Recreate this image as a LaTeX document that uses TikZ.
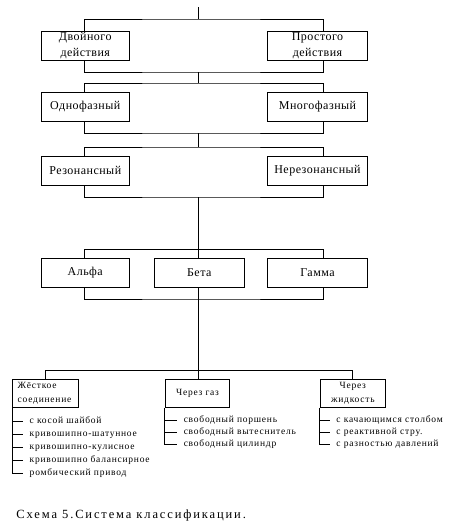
\documentclass[tikz,border=0pt]{standalone}
\usepackage{fontspec}
\newfontfamily\boxfont[LetterSpace=4]{Liberation Serif}
\newfontfamily\smallfont[LetterSpace=8]{Liberation Serif}
\newfontfamily\capfont[LetterSpace=15]{Liberation Serif}
\begin{document}
\begin{tikzpicture}[x=1pt,y=-1pt,
  line width=0.9pt,
  bigbox/.style={draw, inner sep=0pt, align=center,
    font=\boxfont\fontsize{12}{16}\selectfont},
  smallbox/.style={draw, inner ysep=0pt, align=center,
    font=\smallfont\fontsize{9.5}{13.5}\selectfont},
  item/.style={anchor=west, inner ysep=0pt, text height=6pt, text depth=2pt,
    font=\smallfont\fontsize{9.5}{11}\selectfont}]
\useasboundingbox (0,0) rectangle (462,528);
\coordinate (L) at (84.5,0);
\coordinate (R) at (323,0);
\coordinate (t0) at (198.5,7);
\coordinate (t1) at (198.5,19);
\coordinate (m1) at (198.5,72);
\coordinate (m2) at (198.5,83);
\coordinate (m3) at (198.5,133);
\coordinate (m4) at (198.5,147);
\coordinate (m5) at (198.5,197);
\coordinate (m6) at (198.5,249.3);
\coordinate (m7) at (198.5,299);
\coordinate (m8) at (198.5,370.3);

% level 1
\node[bigbox, minimum width=88.5pt, minimum height=29pt] (A1) at (85.25,45.8) {Двойного\\действия};
\node[bigbox, minimum width=100.4pt, minimum height=29pt] (A2) at (317.5,45.8) {Простого\\действия};
% level 2
\node[bigbox, minimum width=88.5pt, minimum height=28.3pt] (B1) at (85.25,106.85) {Однофазный};
\node[bigbox, minimum width=100.4pt, minimum height=28.3pt] (B2) at (317.5,106.85) {Многофазный};
% level 3
\node[bigbox, minimum width=88.5pt, minimum height=29pt] (C1) at (85.25,170.5) {Резонансный};
\node[bigbox, minimum width=100.4pt, minimum height=29pt] (C2) at (317.5,170.5) {Нерезонансный};
% level 4
\node[bigbox, minimum width=88.5pt, minimum height=29pt] (D1) at (85.25,272.8) {Альфа};
\node[bigbox, minimum width=90pt, minimum height=29pt] (D2) at (199.3,272.8) {Бета};
\node[bigbox, minimum width=100.4pt, minimum height=29pt] (D3) at (317.5,272.8) {Гамма};
% level 5
\node[smallbox, minimum width=66pt, minimum height=28pt, text width=56pt, inner xsep=5pt, align=left] (E1) at (45.7,393.3) {Жёсткое\\соединение};
\node[smallbox, minimum width=64.4pt, minimum height=28pt] (E2) at (197.5,393.3) {Через газ};
\node[smallbox, minimum width=65.7pt, minimum height=28pt, inner xsep=0pt] (E3) at (352.85,393.3) {Через\\жидкость};

% connectors
\draw (t0) -- (t1);
\draw (L |- A1.north) |- (t1) -| (R |- A2.north);
\draw (L |- A1.south) |- (m1) -| (R |- A2.south);
\draw (m1) -- (m2);
\draw (L |- B1.north) |- (m2) -| (R |- B2.north);
\draw (L |- B1.south) |- (m3) -| (R |- B2.south);
\draw (m3) -- (m4);
\draw (L |- C1.north) |- (m4) -| (R |- C2.north);
\draw (L |- C1.south) |- (m5) -| (R |- C2.south);
\draw (m5) -- (m5 |- D2.north);
\draw (L |- D1.north) |- (m6) -| (R |- D3.north);
\draw (L |- D1.south) |- (m7) -| (R |- D3.south);
\draw (m8 |- D2.south) -- (m8) -- (m8 |- E2.north);
\draw (E1.north) |- (m8) -| (E3.north);

% left list
\node[item, inner xsep=6.6pt] (l1) at (22.7,421.3) {с косой шайбой};
\node[item, inner xsep=6.6pt] (l2) at (22.7,434.3) {кривошипно-шатунное};
\node[item, inner xsep=6.6pt] (l3) at (22.7,447.7) {кривошипно-кулисное};
\node[item, inner xsep=6.6pt] (l4) at (22.7,460.7) {кривошипно балансирное};
\node[item, inner xsep=6.6pt] (l5) at (22.7,473.7) {ромбический привод};
\draw (E1.south west) |- (l5.west);
\foreach \i in {1,2,3,4} \draw (E1.south west |- l\i.west) -- (l\i.west);

% middle list
\node[item, inner xsep=6.6pt] (g1) at (176.7,420.5) {свободный поршень};
\node[item, inner xsep=6.6pt] (g2) at (176.7,432.5) {свободный вытеснитель};
\node[item, inner xsep=6.6pt] (g3) at (176.7,444) {свободный цилиндр};
\draw (E2.south west) |- (g3.west);
\foreach \i in {1,2} \draw (E2.south west |- g\i.west) -- (g\i.west);

% right list
\node[item, inner xsep=6pt] (j1) at (330,420.5) {с качающимся столбом};
\node[item, inner xsep=6pt] (j2) at (330,432.5) {с реактивной стру.};
\node[item, inner xsep=6pt] (j3) at (330,444) {с разностью давлений};
\draw (E3.south west) |- (j3.west);
\foreach \i in {1,2} \draw (E3.south west |- j\i.west) -- (j\i.west);

% caption
\node[anchor=west, inner sep=0pt, font=\capfont\fontsize{12.5}{15}\selectfont] (cap) at (16,515) {Схема 5.Система классификации.};
\end{tikzpicture}
\end{document}
